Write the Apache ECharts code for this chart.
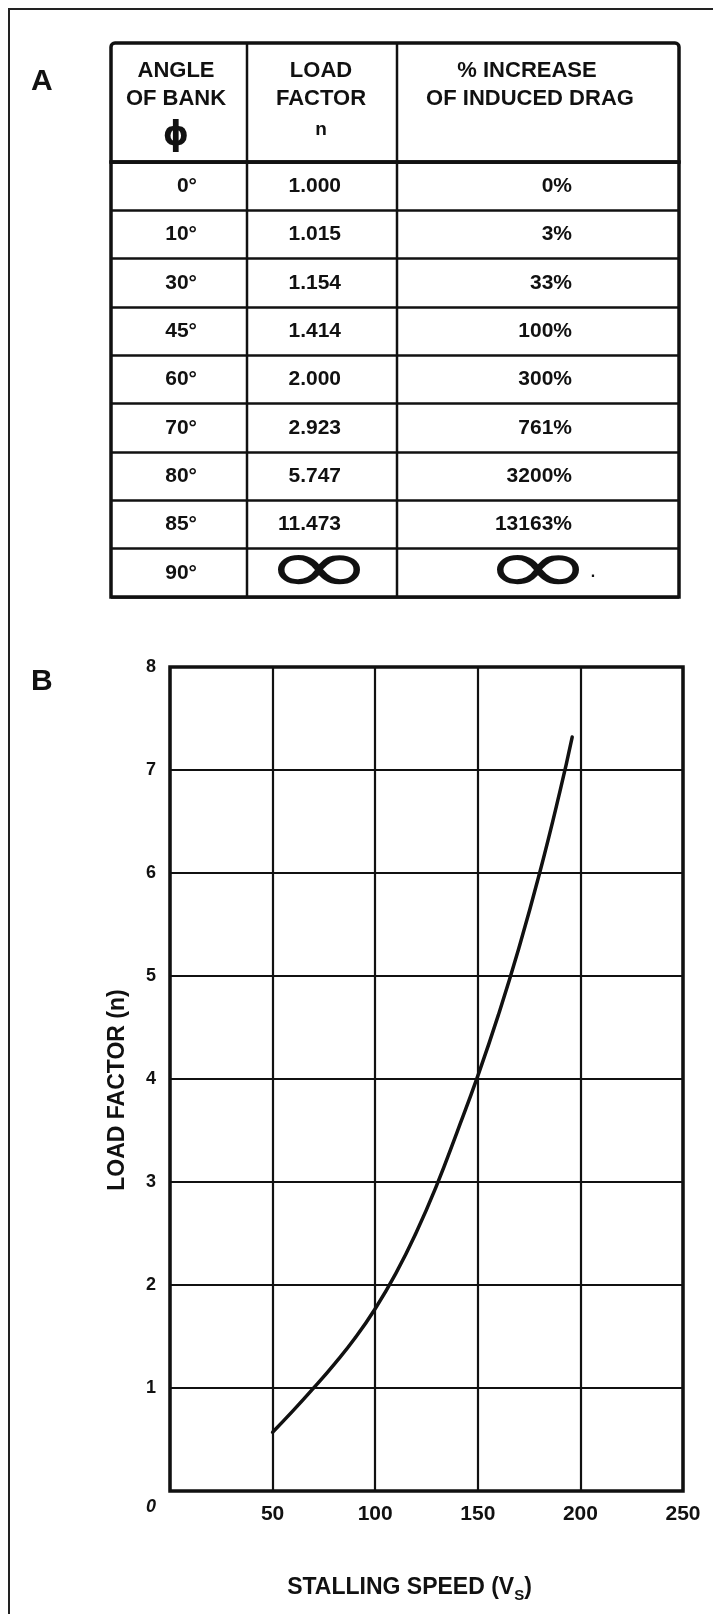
<!DOCTYPE html>
<html><head><meta charset="utf-8">
<script src="https://cdn.jsdelivr.net/npm/echarts@6/dist/echarts.min.js"></script>
<style>html,body{margin:0;padding:0;background:#fff}#c{width:713px;height:1614px}</style>
</head><body><div id="c"></div>
<script>
// ---- Table A data ----
const angles = ['0°', '10°', '30°', '45°', '60°', '70°', '80°', '85°', '90°'];
const loadFactors = ['1.000', '1.015', '1.154', '1.414', '2.000', '2.923', '5.747', '11.473', '∞'];
const dragIncrease = ['0%', '3%', '33%', '100%', '300%', '761%', '3200%', '13163%', '∞'];
const headerCol1 = ['ANGLE', 'OF BANK', 'ϕ'];
const headerCol2 = ['LOAD', 'FACTOR', 'n'];
const headerCol3 = ['% INCREASE', 'OF INDUCED DRAG'];

// ---- Chart B data ----
const stallSpeed = [50, 60, 70, 80, 90, 100, 110, 120, 130, 140, 150, 160, 170, 180, 190, 196];
const loadFactorN = [0.57, 0.78, 1.0, 1.23, 1.48, 1.77, 2.11, 2.51, 2.97, 3.49, 4.03, 4.62, 5.27, 5.99, 6.79, 7.32];

const INK = '#111';
const FONT = '"Liberation Sans", Arial, Helvetica, sans-serif';

// table column anchors in table-axis units (0..568)
const COL = {angleRight: 86, loadRight: 230, dragRight: 461, loadCenter: 208, dragCenter: 427, div1: 136, div2: 286, dot: 482};

function renderRow(params, api) {
  const i = api.value(1);
  const yc = api.coord([0, i])[1];
  const h = api.size([0, 1])[1];
  const children = [];
  function txt(xv, s, align, font, extra) {
    const p = api.coord([xv, i]);
    return Object.assign({
      type: 'text', x: p[0], y: p[1],
      style: {text: s, fill: INK, font: font, align: align, textAlign: align, verticalAlign: 'middle', textVerticalAlign: 'middle'}
    }, extra || {});
  }
  const rowFont = 'bold 21px ' + FONT;
  const infFont = 'normal 78px "DejaVu Sans ExtraLight", "DejaVu Sans"';
  children.push(txt(COL.angleRight, angles[i], 'right', rowFont));
  if (loadFactors[i] === '∞') {
    children.push(txt(COL.loadCenter, '∞', 'center', infFont, {scaleX: 1.7, scaleY: 1.0, originX: 0, originY: 0}));
  } else {
    children.push(txt(COL.loadRight, loadFactors[i], 'right', rowFont));
  }
  if (dragIncrease[i] === '∞') {
    children.push(txt(COL.dragCenter, '∞', 'center', infFont, {scaleX: 1.7, scaleY: 1.0, originX: 0, originY: 0}));
    children.push(txt(COL.dot, '.', 'center', 'bold 16px ' + FONT));
  } else {
    children.push(txt(COL.dragRight, dragIncrease[i], 'right', rowFont));
  }
  [COL.div1, COL.div2].forEach(function (d) {
    const x = api.coord([d, i])[0];
    children.push({type: 'line', shape: {x1: x, y1: yc - h / 2, x2: x, y2: yc + h / 2}, style: {stroke: INK, lineWidth: 2.5}});
  });
  return {type: 'group', children: children};
}

const headerFont = 'bold 22px ' + FONT;
function headerText(x, y, s, font) {
  return {type: 'text', x: x, y: y, style: {text: s, fill: INK, font: font || headerFont, align: 'center', verticalAlign: 'middle'}};
}

const graphic = [
  {type: 'rect', shape: {x: 9, y: 9, width: 780, height: 1700}, style: {fill: 'none', stroke: '#222', lineWidth: 2}, z: 0},
  {type: 'text', x: 31, y: 82, style: {text: 'A', fill: INK, font: 'bold 30px ' + FONT, verticalAlign: 'middle'}},
  {type: 'text', x: 31, y: 682, style: {text: 'B', fill: INK, font: 'bold 30px ' + FONT, verticalAlign: 'middle'}},
  {type: 'rect', shape: {x: 111, y: 43, width: 568, height: 119, r: [4, 4, 0, 0]}, style: {fill: 'none', stroke: INK, lineWidth: 3.5}},
  {type: 'line', shape: {x1: 247, y1: 43, x2: 247, y2: 162}, style: {stroke: INK, lineWidth: 2.5}},
  {type: 'line', shape: {x1: 397, y1: 43, x2: 397, y2: 162}, style: {stroke: INK, lineWidth: 2.5}},
  headerText(176, 71, headerCol1[0]),
  headerText(176, 99, headerCol1[1]),
  headerText(176, 136, headerCol1[2], 'bold 33px "DejaVu Sans"'),
  headerText(321, 71, headerCol2[0]),
  headerText(321, 99, headerCol2[1]),
  headerText(321, 130, headerCol2[2], 'bold 19px ' + FONT),
  headerText(527, 71, headerCol3[0]),
  headerText(530, 99, headerCol3[1])
];

const chart = echarts.init(document.getElementById('c'), null, {renderer: 'canvas'});
chart.setOption({
  backgroundColor: '#fff',
  animation: false,
  graphic: graphic,
  grid: [
    {left: 170, top: 667, width: 513, height: 824, show: true, borderColor: INK, borderWidth: 3.5, containLabel: false},
    {left: 111, top: 162, width: 568, height: 435, show: true, borderColor: INK, borderWidth: 3.5, containLabel: false}
  ],
  xAxis: [
    {
      type: 'value', gridIndex: 0, min: 0, max: 250, interval: 50,
      axisLine: {show: false}, axisTick: {show: false},
      splitLine: {show: true, lineStyle: {color: INK, width: 2.2}},
      axisLabel: {color: INK, fontSize: 21, fontWeight: 'bold', fontFamily: FONT, margin: 13,
        formatter: function (v) { return v === 0 ? '' : String(v); }},
      name: '{a|STALLING SPEED (V}{s|S}{a|)}',
      nameLocation: 'middle', nameGap: 81,
      nameTextStyle: {
        color: INK, fontSize: 23, fontWeight: 'bold', fontFamily: FONT, padding: [0, 34, 0, 0],
        rich: {
          a: {color: INK, fontSize: 23, fontWeight: 'bold', fontFamily: FONT},
          s: {color: INK, fontSize: 15, fontWeight: 'bold', fontFamily: FONT, padding: [16, 0, 0, 0]}
        }
      }
    },
    {type: 'value', gridIndex: 1, min: 0, max: 568, show: false}
  ],
  yAxis: [
    {
      type: 'value', gridIndex: 0, min: 0, max: 8, interval: 1,
      axisLine: {show: false}, axisTick: {show: false},
      splitLine: {show: true, lineStyle: {color: INK, width: 2.2}},
      axisLabel: {color: INK, fontSize: 18, fontWeight: 'bold', fontFamily: FONT, margin: 14,
        formatter: function (v) { return v === 0 ? '{z|0}' : String(v); },
        rich: {z: {color: INK, fontSize: 18, fontWeight: 'bold', fontStyle: 'italic', fontFamily: FONT, padding: [32, 0, 0, 0]}}
      },
      name: 'LOAD FACTOR (n)', nameLocation: 'middle', nameRotate: 90, nameGap: 41,
      nameTextStyle: {color: INK, fontSize: 23, fontWeight: 'bold', fontFamily: FONT, padding: [0, 22, 0, 0]}
    },
    {
      type: 'category', gridIndex: 1, data: angles, inverse: true,
      axisLine: {show: false}, axisTick: {show: false}, axisLabel: {show: false},
      splitLine: {show: true, interval: 0, lineStyle: {color: INK, width: 2.5}}
    }
  ],
  series: [
    {
      type: 'line', xAxisIndex: 0, yAxisIndex: 0,
      data: stallSpeed.map(function (v, i) { return [v, loadFactorN[i]]; }),
      smooth: 0.5, showSymbol: false, symbol: 'none',
      lineStyle: {color: INK, width: 3.5, cap: 'round'}, z: 5
    },
    {
      type: 'custom', xAxisIndex: 1, yAxisIndex: 1,
      data: angles.map(function (a, i) { return [0, i]; }),
      encode: {x: 0, y: 1},
      renderItem: renderRow, clip: false
    }
  ]
});
</script></body></html>
